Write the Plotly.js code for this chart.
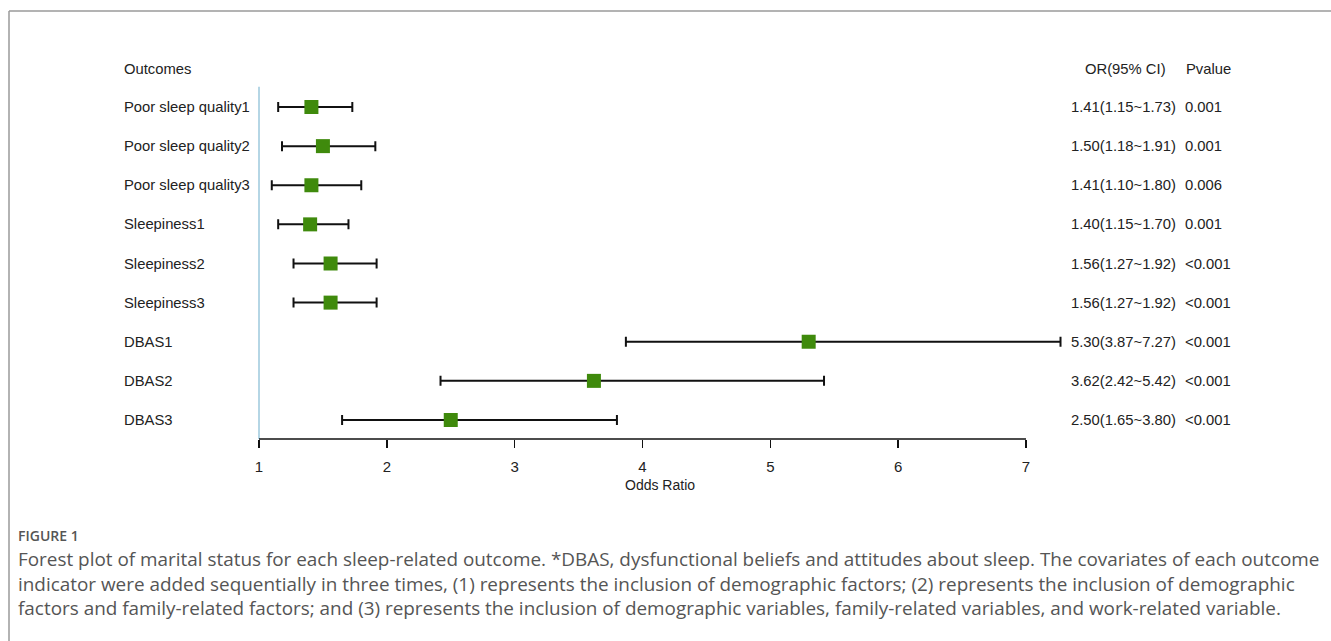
<!DOCTYPE html>
<html>
<head>
<meta charset="utf-8">
<script src="https://cdn.plot.ly/plotly-3.0.1.min.js"></script>
<style>html,body{margin:0;padding:0;background:#fff;}#chart{width:1331px;height:641px;}</style>
</head>
<body>
<div id="chart"></div>
<script>
const outcomes = ["Poor sleep quality1","Poor sleep quality2","Poor sleep quality3","Sleepiness1","Sleepiness2","Sleepiness3","DBAS1","DBAS2","DBAS3"];
const orVals = [1.41,1.50,1.41,1.40,1.56,1.56,5.30,3.62,2.50];
const ciLow  = [1.15,1.18,1.10,1.15,1.27,1.27,3.87,2.42,1.65];
const ciHigh = [1.73,1.91,1.80,1.70,1.92,1.92,7.27,5.42,3.80];
const pValues = ["0.001","0.001","0.006","0.001","<0.001","<0.001","<0.001","<0.001","<0.001"];
const tickVals = [1,2,3,4,5,6,7];
const headers = ["Outcomes","OR(95% CI)","Pvalue"];
const captionHead = "FIGURE 1";
const captionLines = [
  "Forest plot of marital status for each sleep-related outcome. *DBAS, dysfunctional beliefs and attitudes about sleep. The covariates of each outcome",
  "indicator were added sequentially in three times, (1) represents the inclusion of demographic factors; (2) represents the inclusion of demographic",
  "factors and family-related factors; and (3) represents the inclusion of demographic variables, family-related variables, and work-related variable."
];

const W = 1331, H = 641;
const rows = outcomes.map((_, i) => i);
const chartFont = "Liberation Sans, Arial, sans-serif";
const capFont = "Open Sans, Noto Sans, sans-serif";
const px2x = px => px / W;
const px2y = px => 1 - px / H;
const txt = {family: chartFont, size: 14.8, color: "#222"};

const trace = {
  type: "scatter", mode: "markers",
  x: orVals, y: rows,
  marker: {symbol: "square", size: 14, color: "#3f8a0c", line: {width: 0}},
  error_x: {
    type: "data", symmetric: false,
    array: orVals.map((v, i) => ciHigh[i] - v),
    arrayminus: orVals.map((v, i) => v - ciLow[i]),
    color: "#111", thickness: 2, width: 5
  },
  hoverinfo: "skip", cliponaxis: false
};

const annotations = [];
const colX = [122, 1083, 1184];
headers.forEach((h, j) => {
  annotations.push({xref: "paper", yref: "y", x: px2x(colX[j]), y: -0.97, xanchor: "left", yanchor: "middle",
    text: h, showarrow: false, font: txt});
});
outcomes.forEach((name, i) => {
  annotations.push({xref: "paper", yref: "y", x: px2x(122), y: rows[i], xanchor: "left", yanchor: "middle",
    text: name, showarrow: false, font: txt});
  annotations.push({xref: "paper", yref: "y", x: px2x(1069), y: rows[i], xanchor: "left", yanchor: "middle",
    text: `${orVals[i].toFixed(2)}(${ciLow[i].toFixed(2)}~${ciHigh[i].toFixed(2)})`, showarrow: false, font: txt});
  annotations.push({xref: "paper", yref: "y", x: px2x(1183), y: rows[i], xanchor: "left", yanchor: "middle",
    text: pValues[i], showarrow: false, font: txt});
});
annotations.push({xref: "paper", yref: "paper", x: px2x(660), y: px2y(485), xanchor: "center", yanchor: "middle",
  text: "Odds Ratio", showarrow: false, font: {family: chartFont, size: 14, color: "#222"}});
annotations.push({xref: "paper", yref: "paper", x: px2x(16), y: px2y(535), xanchor: "left", yanchor: "middle",
  text: captionHead, showarrow: false, font: {family: capFont, size: 14, color: "#555", weight: 600}});
annotations.push({xref: "paper", yref: "paper", x: px2x(16), y: px2y(583), xanchor: "left", yanchor: "middle",
  align: "left", text: captionLines.join("<br>"), showarrow: false,
  font: {family: capFont, size: 18.9, color: "#555"}});

const axisRow = 8.486;
const shapes = [
  {type: "line", xref: "x", yref: "y", x0: tickVals[0], x1: tickVals[0], y0: -0.52, y1: axisRow,
   line: {color: "#9cc8dc", width: 1.5}},
  {type: "line", xref: "x", yref: "y", x0: tickVals[0], x1: tickVals[tickVals.length - 1], y0: axisRow, y1: axisRow,
   line: {color: "#111", width: 1.5}},
  {type: "line", xref: "paper", yref: "paper", x0: px2x(9), x1: 1, y0: px2y(11), y1: px2y(11),
   line: {color: "#9a9a9a", width: 1.5}},
  {type: "line", xref: "paper", yref: "paper", x0: px2x(9), x1: px2x(9), y0: 0, y1: px2y(11),
   line: {color: "#9a9a9a", width: 1.5}}
];

const layout = {
  width: W, height: H,
  margin: {l: 0, r: 0, t: 0, b: 0, pad: 0},
  paper_bgcolor: "#fff", plot_bgcolor: "rgba(0,0,0,0)",
  showlegend: false,
  xaxis: {
    domain: [0, 1], range: [-1.0261, 9.386],
    tickvals: tickVals, ticktext: tickVals.map(String),
    ticks: "outside", ticklen: 8, tickwidth: 1.5, tickcolor: "#111",
    ticklabelstandoff: 6,
    showline: false, showgrid: false, zeroline: false,
    anchor: "free", position: (H - 439) / H,
    tickfont: {family: chartFont, size: 15, color: "#222"},
    fixedrange: true
  },
  yaxis: {domain: [0, 1], range: [13.649, -2.735], visible: false, showgrid: false, zeroline: false, fixedrange: true},
  shapes: shapes,
  annotations: annotations
};

Plotly.newPlot("chart", [trace], layout, {displayModeBar: false, staticPlot: true});
</script>
</body>
</html>
